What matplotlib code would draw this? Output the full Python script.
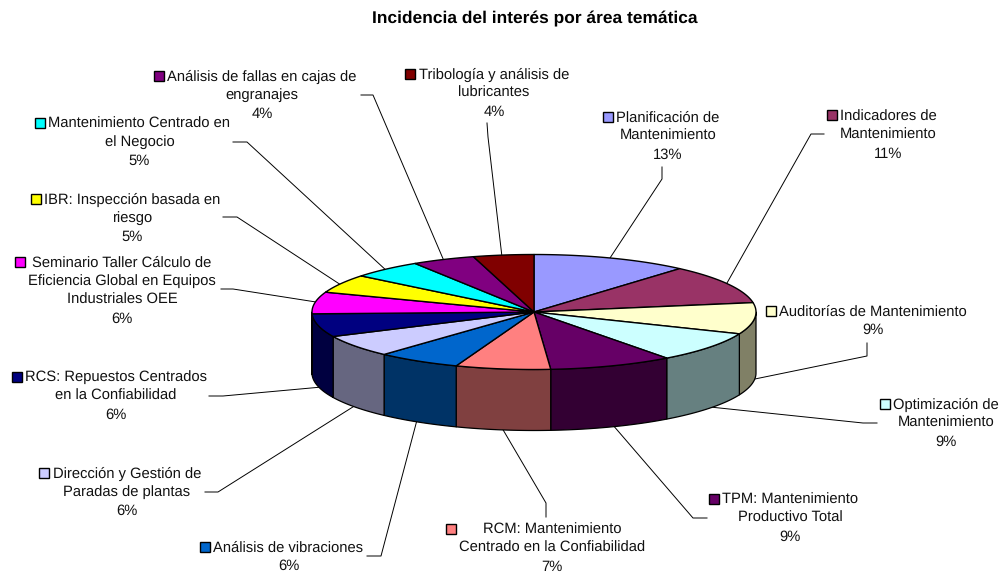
import numpy as np
import matplotlib
matplotlib.use('Agg')
import matplotlib.pyplot as plt
from matplotlib.patches import Polygon, Rectangle

plt.rcParams['font.family'] = ['Liberation Sans', 'DejaVu Sans']
plt.rcParams['text.hinting'] = 'no_hinting'

title = 'Incidencia del interés por área temática'

categories = [
    'Planificación de\nMantenimiento',
    'Indicadores de\nMantenimiento',
    'Auditorías de Mantenimiento',
    'Optimización de\nMantenimiento',
    'TPM: Mantenimiento\nProductivo Total',
    'RCM: Mantenimiento\nCentrado en la Confiabilidad',
    'Análisis de vibraciones',
    'Dirección y Gestión de\nParadas de plantas',
    'RCS: Repuestos Centrados\nen la Confiabilidad',
    'Seminario Taller Cálculo de\nEficiencia Global en Equipos\nIndustriales OEE',
    'IBR: Inspección basada en\nriesgo',
    'Mantenimiento Centrado en\nel Negocio',
    'Análisis de fallas en cajas de\nengranajes',
    'Tribología y análisis de\nlubricantes',
]
# percent printed on the labels
pct_labels = [13, 11, 9, 9, 9, 7, 6, 6, 6, 6, 5, 5, 4, 4]
# share of the circle as the slices are actually drawn
slice_share = [11.4, 11.0, 8.8, 8.6, 9.0, 6.9, 6.1, 6.2, 6.5, 6.1, 5.2, 5.2, 4.6, 4.4]
colors = ['#9999FF', '#993366', '#FFFFCC', '#CCFFFF', '#660066', '#FF8080', '#0066CC',
          '#CCCCFF', '#000080', '#FF00FF', '#FFFF00', '#00FFFF', '#800080', '#800000']

# layout, in pixels of the picture
text_x = [668, 888, 873, 946, 790, 552, 288.5, 127, 116, 122, 132, 139.5, 262, 494]
text_y = [117.5, 116.5, 311.5, 404.5, 499.5, 529.5, 547.5, 473.5, 377.5, 262.5, 199.5, 123.5, 76.5, 74.5]
key_x = [608, 832, 771, 885, 714, 451, 205, 44, 17, 20, 36, 40, 159, 410]
key_y = [117, 115, 311, 404, 499, 529, 547, 473, 377, 262, 199, 123, 76, 74]
leaders = [
    [(662, 167), (662, 179), (610, 258)],
    [(824, 134), (811, 134), (727, 283)],
    [(867, 343), (867, 356), (750, 380)],
    [(877, 423), (863, 423), (710, 407)],
    [(707, 518), (693, 518), (612, 424)],
    [(546, 517), (546, 503), (502, 428)],
    [(367, 556), (381, 556), (417, 420)],
    [(205, 492), (218, 492), (356, 405)],
    [(209, 396), (223, 396), (322, 387)],
    [(221, 289), (233, 289), (316, 302)],
    [(223, 217), (237, 217), (341, 285)],
    [(233, 142), (247, 142), (388, 272)],
    [(361, 95), (373, 95), (444, 261)],
    [(487, 123), (488, 137), (502, 257)],
]
cx, cy = 534, 312
rx, ry = 222, 57.5
depth = 61
line_step = 18.8
font_size = 10.65
title_size = 12.5


def ellipse_pts(t0, t1, y_off=0.0):
    t = np.radians(np.linspace(t0, t1, max(int(abs(t1 - t0)) * 2, 2)))
    return np.column_stack([cx + rx * np.sin(t), cy + y_off - ry * np.cos(t)])


def darker(c):
    return tuple(v * 0.5 for v in matplotlib.colors.to_rgb(c))


fig = plt.figure(figsize=(10, 5.73), dpi=100)
ax = fig.add_axes([0, 0, 1, 1])
ax.set_xlim(0, 1000)
ax.set_ylim(573, 0)
ax.axis('off')

ax.text(534.5, 19, title, ha='center', va='center', fontsize=title_size, fontweight='bold')

angles = np.concatenate([[0], np.cumsum(slice_share)]) / np.sum(slice_share) * 360

for i, c in enumerate(colors):
    # outer wall, only the part that faces the viewer
    w0, w1 = max(angles[i], 90), min(angles[i + 1], 270)
    if w1 > w0:
        pts = np.vstack([ellipse_pts(w0, w1), ellipse_pts(w1, w0, depth)])
        ax.add_patch(Polygon(pts, closed=True, fc=darker(c), ec='black', lw=0.9, joinstyle='round', zorder=2))

for i, c in enumerate(colors):
    pts = np.vstack([[(cx, cy)], ellipse_pts(angles[i], angles[i + 1])])
    ax.add_patch(Polygon(pts, closed=True, fc=c, ec='black', lw=1.0, joinstyle='round', zorder=3))

for i, name in enumerate(categories):
    lines = name.split('\n') + ['%d%%' % pct_labels[i]]
    for j, line in enumerate(lines):
        ax.text(text_x[i], text_y[i] + j * line_step, line, ha='center', va='center',
                fontsize=font_size, color='#111111')
    ax.add_patch(Rectangle((key_x[i] - 5, key_y[i] - 5), 10, 10, fc=colors[i], ec='black', lw=1.0, zorder=4))
    xs, ys = zip(*leaders[i])
    ax.plot(xs, ys, color='black', lw=0.7, zorder=1)

fig.savefig('out.png', dpi=100)
plt.close()
